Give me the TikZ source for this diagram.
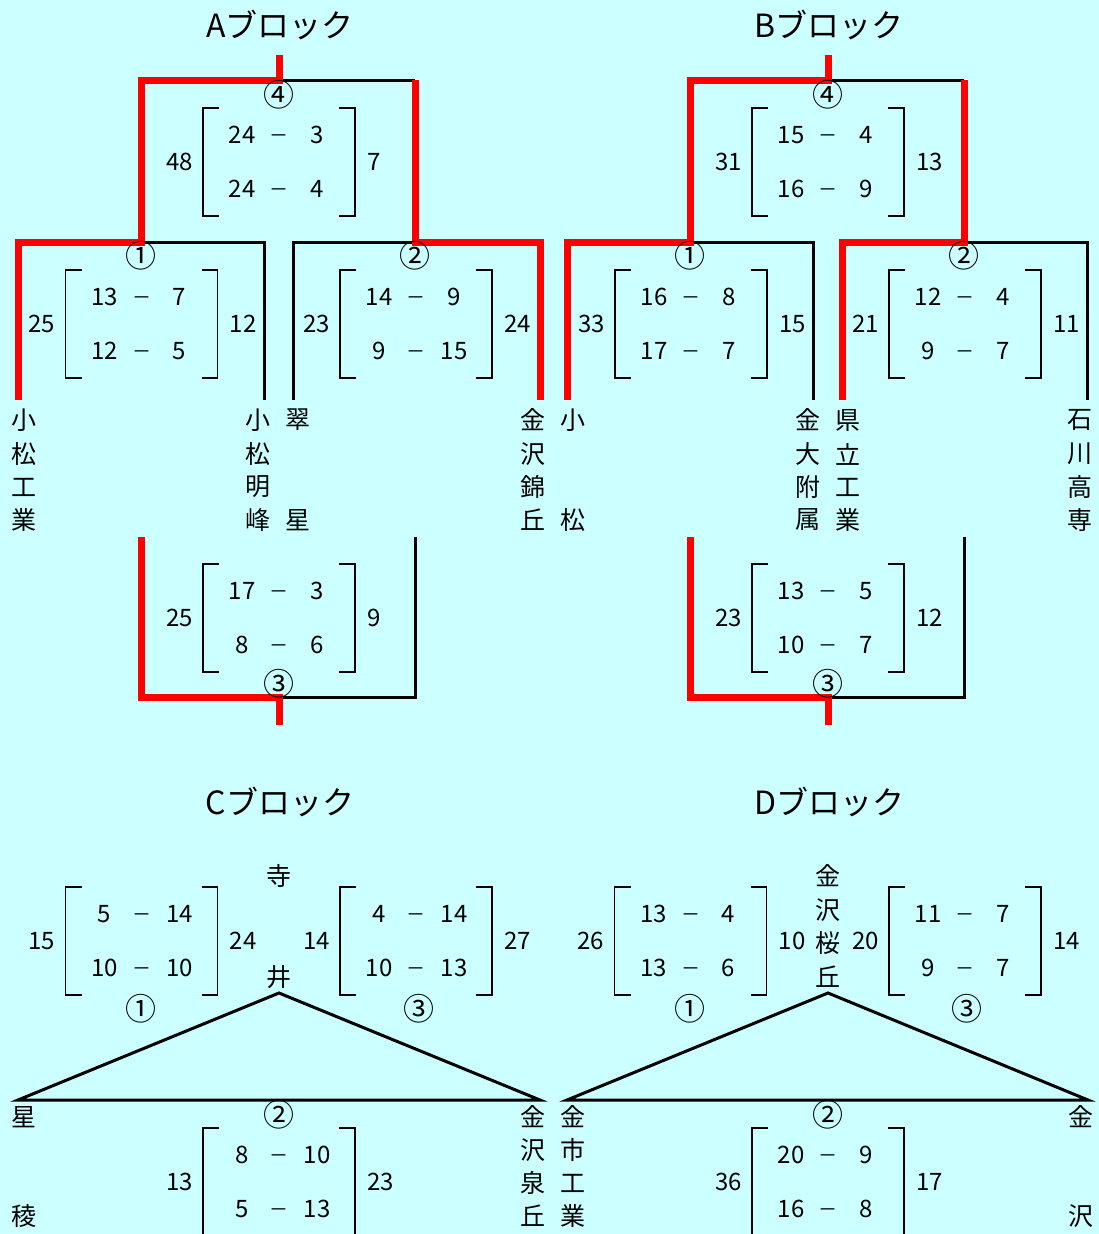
\documentclass[tikz,border=0pt]{standalone}
\usepackage{fontspec}
\setmainfont{Noto Sans CJK JP}
\definecolor{bgc}{HTML}{CCFFFF}
\definecolor{wred}{HTML}{FF0000}
\tikzset{
  win/.style={line width=7pt, draw=wred, line join=miter, line cap=butt},
  lose/.style={line width=3pt, draw=black, line join=miter},
  brk/.style={line width=1.3pt, draw=black},
  nm/.style={font=\fontsize{25}{25}\selectfont, inner sep=0pt},
  num/.style={font=\fontsize{24}{24}\selectfont, inner sep=0pt},
  dsh/.style={font=\fontsize{19}{19}\selectfont, inner sep=0pt, anchor=base, yshift=1.6pt},
  cnum/.style={font=\fontsize{31}{31}\selectfont, inner sep=0pt},
  ttl/.style={font=\fontsize{32}{32}\selectfont, inner sep=0pt},
}
\newcommand\scoregrid[9]{%
  \begin{scope}[shift={(#2,#3)}]
    \draw[brk] (-60,0) -- (-76,0) -- (-76,108) -- (-60,108);
    \draw[brk] (60,0) -- (76,0) -- (76,108) -- (60,108);
    \node[num,anchor=east] (#1-L) at (-86,54) {#4};
    \node[num,anchor=west] (#1-R) at (88,54) {#5};
    \node[num] (#1-a) at (-37,27) {#6};
    \node[dsh] (#1-d1) at (0,35.8) {－};
    \node[num] (#1-b) at (38,27) {#7};
    \node[num] (#1-c) at (-37,81) {#8};
    \node[dsh] (#1-d2) at (0,89.8) {－};
    \node[num] (#1-e) at (38,81) {#9};
  \end{scope}}
\newcommand\vname[3]{%
  \foreach \yy/\ch [count=\k] in {#3} \node[nm] (#1-\k) at (#2,\yy) {\ch};}
\begin{document}
\begin{tikzpicture}[x=1pt,y=-1pt]
\fill[bgc] (0,0) rectangle (1099,1234);
\useasboundingbox (0,0) rectangle (1099,1234);

% ================= A block =================
\node[ttl] (A-title) at (280,25) {Aブロック};
\coordinate (A-top) at (279,55);
\coordinate (A-f) at (279,80);
\coordinate (A-fl) at (141,80);
\coordinate (A-fr) at (415,80);
\coordinate (A-1) at (141,242);
\coordinate (A-1l) at (18,242);
\coordinate (A-1r) at (264,242);
\coordinate (A-1ld) at (18,400);
\coordinate (A-1rd) at (264,400);
\coordinate (A-2) at (415,242);
\coordinate (A-2l) at (293,242);
\coordinate (A-2r) at (540,242);
\coordinate (A-2ld) at (293,400);
\coordinate (A-2rd) at (540,400);
\coordinate (A-3l) at (141,537);
\coordinate (A-3lb) at (141,697);
\coordinate (A-3) at (279,697);
\coordinate (A-3rb) at (415,697);
\coordinate (A-3r) at (415,537);
\coordinate (A-bot) at (279,725);
\draw[lose] (A-f) -- (A-fr);
\draw[lose] (A-1) -- (A-1r) -- (A-1rd);
\draw[lose] (A-2ld) -- (A-2l) -- (A-2);
\draw[lose] (A-3) -- (A-3rb) -- (A-3r);
\draw[win] (A-top) -- (A-f) -- (A-fl) -- (A-1) -- (A-1l) -- (A-1ld);
\draw[win] (A-fr) -- (A-2) -- (A-2r) -- (A-2rd);
\draw[win] (A-3l) -- (A-3lb) -- (A-3) -- (A-bot);
\node[cnum] (A-c4) at (279,95) {④};
\node[cnum] (A-c1) at (141,256) {①};
\node[cnum] (A-c2) at (415,256) {②};
\node[cnum] (A-c3) at (279,684) {③};
\scoregrid{A4}{279}{108}{48}{7}{24}{3}{24}{4}
\scoregrid{A1}{141.5}{270}{25}{12}{13}{7}{12}{5}
\scoregrid{A2}{416}{270}{23}{24}{14}{9}{9}{15}
\scoregrid{A3}{279}{564}{25}{9}{17}{3}{8}{6}
\vname{A-t1}{24}{420/小,454/松,487/工,520/業}
\vname{A-t2}{258}{420/小,454/松,487/明,520/峰}
\vname{A-t3}{298}{420/翠,520/星}
\vname{A-t4}{533}{420/金,454/沢,487/錦,520/丘}

% ================= B block =================
\node[ttl] (B-title) at (829,25) {Bブロック};
\coordinate (B-top) at (828,55);
\coordinate (B-f) at (828,80);
\coordinate (B-fl) at (690,80);
\coordinate (B-fr) at (964,80);
\coordinate (B-1) at (690,242);
\coordinate (B-1l) at (567,242);
\coordinate (B-1r) at (813,242);
\coordinate (B-1ld) at (567,400);
\coordinate (B-1rd) at (813,400);
\coordinate (B-2) at (964,242);
\coordinate (B-2l) at (842,242);
\coordinate (B-2r) at (1087,242);
\coordinate (B-2ld) at (842,400);
\coordinate (B-2rd) at (1087,400);
\coordinate (B-3l) at (690,537);
\coordinate (B-3lb) at (690,697);
\coordinate (B-3) at (828,697);
\coordinate (B-3rb) at (964,697);
\coordinate (B-3r) at (964,537);
\coordinate (B-bot) at (828,725);
\draw[lose] (B-f) -- (B-fr);
\draw[lose] (B-1) -- (B-1r) -- (B-1rd);
\draw[lose] (B-2) -- (B-2r) -- (B-2rd);
\draw[lose] (B-3) -- (B-3rb) -- (B-3r);
\draw[win] (B-top) -- (B-f) -- (B-fl) -- (B-1) -- (B-1l) -- (B-1ld);
\draw[win] (B-fr) -- (B-2) -- (B-2l) -- (B-2ld);
\draw[win] (B-3l) -- (B-3lb) -- (B-3) -- (B-bot);
\node[cnum] (B-c4) at (828,95) {④};
\node[cnum] (B-c1) at (690,256) {①};
\node[cnum] (B-c2) at (964,256) {②};
\node[cnum] (B-c3) at (828,684) {③};
\scoregrid{B4}{828}{108}{31}{13}{15}{4}{16}{9}
\scoregrid{B1}{691}{270}{33}{15}{16}{8}{17}{7}
\scoregrid{B2}{965}{270}{21}{11}{12}{4}{9}{7}
\scoregrid{B3}{828}{564}{23}{12}{13}{5}{10}{7}
\vname{B-t1}{573}{420/小,520/松}
\vname{B-t2}{808}{420/金,454/大,487/附,520/属}
\vname{B-t3}{848}{420/県,454/立,487/工,520/業}
\vname{B-t4}{1080}{420/石,454/川,487/高,520/専}

% ================= C block =================
\node[ttl] (C-title) at (280,802) {Cブロック};
\coordinate (C-ap) at (279,993);
\coordinate (C-bl) at (18,1100);
\coordinate (C-br) at (540,1100);
\draw[lose] (C-bl) -- (C-ap) -- (C-br) -- cycle;
\node[cnum] (C-c1) at (141,1009) {①};
\node[cnum] (C-c3) at (419,1009) {③};
\node[cnum] (C-c2) at (279,1115) {②};
\scoregrid{C1}{141.5}{887}{15}{24}{5}{14}{10}{10}
\scoregrid{C3}{416}{887}{14}{27}{4}{14}{10}{13}
\scoregrid{C2}{279}{1128}{13}{23}{8}{10}{5}{13}
\vname{C-t1}{279}{876/寺,977/井}
\vname{C-t2}{24}{1117/星,1216/稜}
\vname{C-t3}{533}{1117/金,1150/沢,1183/泉,1216/丘}

% ================= D block =================
\node[ttl] (D-title) at (829,802) {Dブロック};
\coordinate (D-ap) at (828,993);
\coordinate (D-bl) at (567,1100);
\coordinate (D-br) at (1088,1100);
\draw[lose] (D-bl) -- (D-ap) -- (D-br) -- cycle;
\node[cnum] (D-c1) at (690,1009) {①};
\node[cnum] (D-c3) at (967,1009) {③};
\node[cnum] (D-c2) at (828,1115) {②};
\scoregrid{D1}{690.5}{887}{26}{10}{13}{4}{13}{6}
\scoregrid{D3}{965}{887}{20}{14}{11}{7}{9}{7}
\scoregrid{D2}{828}{1128}{36}{17}{20}{9}{16}{8}
\vname{D-t1}{828}{876/金,910/沢,943/桜,977/丘}
\vname{D-t2}{573}{1117/金,1150/市,1183/工,1216/業}
\vname{D-t3}{1081}{1117/金,1216/沢}
\end{tikzpicture}
\end{document}
